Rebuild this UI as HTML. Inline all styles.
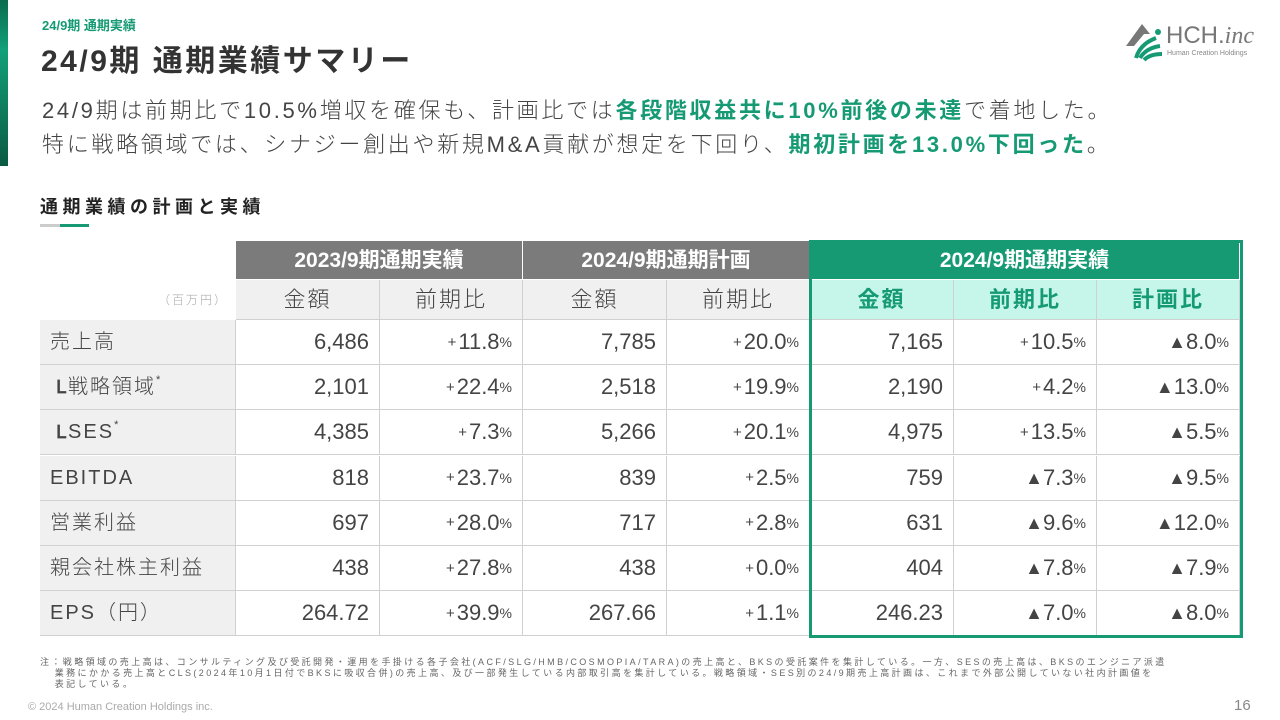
<!DOCTYPE html>
<html lang="ja"><head><meta charset="utf-8">
<style>
*{margin:0;padding:0;box-sizing:border-box}
body{width:1280px;height:720px;position:relative;background:#fff;font-family:"Liberation Sans","Noto Sans CJK JP",sans-serif;color:#333;overflow:hidden}
.a{position:absolute}
.c{position:absolute;border-right:1px solid #d0d0d0;border-bottom:1px solid #d0d0d0;display:flex;align-items:center;font-size:22px;color:#444;font-weight:300;line-height:1}
.n{justify-content:flex-end;padding-right:10px}
.pct{font-size:14px}
.pl{font-size:15px;margin-right:2px}
.g{color:#159a74;font-weight:700}
</style></head><body>
<div class="a" style="left:0;top:0;width:8px;height:166px;background:linear-gradient(#0a6b4f,#12a07a 30%,#0a5a42)"></div>
<div class="a" style="left:42px;top:15px;font-size:13px;color:#159a74;font-weight:700">24/9期 通期実績</div>
<div class="a" style="left:41px;top:36px;font-size:30px;font-weight:700;color:#333;letter-spacing:2.5px">24/9期 通期業績サマリー</div>
<div class="a" style="left:1124px;top:20px;width:140px;height:42px">
<svg width="40" height="42" viewBox="0 0 40 42"><polygon points="2,26 18,4 26,14 20,14 10,26" fill="#777"/><path d="M12,38 Q16,24 32,18 M16,38 Q22,28 36,26 M20,40 Q26,34 38,34" stroke="#159a74" stroke-width="4" fill="none"/><circle cx="34" cy="12" r="3" fill="#159a74"/></svg>
<div class="a" style="left:42px;top:2px;font-size:24px;color:#777">HCH.<i style="font-family:'Liberation Serif',serif">inc</i></div>
<div class="a" style="left:43px;top:30px;font-size:7px;color:#888;white-space:nowrap">Human Creation Holdings</div></div>
<div class="a" style="left:42px;top:94px;font-size:22px;line-height:34px;color:#444;font-weight:300;white-space:nowrap;letter-spacing:2.7px">24/9期は前期比で10.5%増収を確保も、計画比では<span class="g">各段階収益共に10%前後の未達</span>で着地した。<br>特に戦略領域では、シナジー創出や新規M&amp;A貢献が想定を下回り、<span class="g">期初計画を13.0%下回った</span>。</div>
<div class="a" style="left:40px;top:193px;font-size:18px;font-weight:700;color:#222;letter-spacing:4.5px">通期業績の計画と実績</div>
<div class="a" style="left:40px;top:224px;width:20px;height:3px;background:#ccc"></div>
<div class="a" style="left:60px;top:224px;width:29px;height:3px;background:#159a74"></div>
<div id="tbl"></div>
<div class="a" style="left:40px;top:657px;font-size:9px;line-height:11px;color:#666;width:1240px;letter-spacing:2.4px;white-space:nowrap">注：戦略領域の売上高は、コンサルティング及び受託開発・運用を手掛ける各子会社(ACF/SLG/HMB/COSMOPIA/TARA)の売上高と、BKSの受託案件を集計している。一方、SESの売上高は、BKSのエンジニア派遣<br>&nbsp;&nbsp;&nbsp;業務にかかる売上高とCLS(2024年10月1日付でBKSに吸収合併)の売上高、及び一部発生している内部取引高を集計している。戦略領域・SES別の24/9期売上高計画は、これまで外部公開していない社内計画値を<br>&nbsp;&nbsp;&nbsp;表記している。</div>
<div class="a" style="left:28px;top:701px;font-size:11px;color:#aaa">© 2024 Human Creation Holdings inc.</div>
<div class="a" style="left:1234px;top:697px;font-size:15px;color:#888">16</div>
<script>
const rowLabels=["売上高","└戦略領域*","└SES*","EBITDA","営業利益","親会社株主利益","EPS（円）"];
const fy23Amount=["6,486","2,101","4,385","818","697","438","264.72"];
const fy23Yoy=["+11.8","+22.4","+7.3","+23.7","+28.0","+27.8","+39.9"];
const planAmount=["7,785","2,518","5,266","839","717","438","267.66"];
const planYoy=["+20.0","+19.9","+20.1","+2.5","+2.8","+0.0","+1.1"];
const fy24Amount=["7,165","2,190","4,975","759","631","404","246.23"];
const fy24Yoy=["+10.5","+4.2","+13.5","▲7.3","▲9.6","▲7.8","▲7.0"];
const fy24VsPlan=["▲8.0","▲13.0","▲5.5","▲9.5","▲12.0","▲7.9","▲8.0"];
const colX=[40,236,380,523,667,810,954,1097,1240];
const T=document.getElementById('tbl');
function cell(x,y,w,h,html,cls,style,name){const d=document.createElement('div');d.className='c '+(cls||'');d.style.cssText=`left:${x}px;top:${y}px;width:${w}px;height:${h}px;`+(style||'');d.innerHTML=html;


T.appendChild(d);return d;}
const h1=[["2023/9期通期実績","#7b7b7b"],["2024/9期通期計画","#7b7b7b"],["2024/9期通期実績","#159a74"]];
h1.forEach((h,i)=>cell(colX[1+2*i],241,(i==2?colX[8]:colX[3+2*i])-colX[1+2*i],39,h[0],'',`background:${h[1]};color:#fff;font-weight:700;justify-content:center;border-color:#fff;font-size:21px`,'group-header'));
cell(40,280,196,40,'（百万円）','',`justify-content:flex-end;font-size:12px;color:#aaa;border-right:none;border-bottom:none;padding-right:8px;letter-spacing:2px`,'unit-label');
const h2=["金額","前期比","金額","前期比","金額","前期比","計画比"];
h2.forEach((t,i)=>cell(colX[i+1],280,colX[i+2]-colX[i+1],40,t,'',i>=4?'background:#c6f6ea;color:#159a74;font-weight:700;justify-content:center;letter-spacing:2px':'background:#f0f0f0;justify-content:center;letter-spacing:2px','column-header'));
function pct(v){if(v[0]=='+')return `<span class="pl">+</span>${v.slice(1)}<span class="pct">%</span>`;return `<span style="font-size:18px">▲</span>${v.slice(1)}<span class="pct">%</span>`;}
rowLabels.forEach((lab,r)=>{const y=320+r*45.2,h=45;
let l=lab.replace('└','<b style="font-weight:700;font-size:18px;margin-left:6px">ᒪ</b>').replace('*','<sup style="font-size:11px;align-self:flex-start;margin-top:10px">*</sup>');
cell(40,y,196,h,l,'',`background:#f0f0f0;padding-left:10px;font-size:20px;letter-spacing:2px`,'row-label');
[fy23Amount[r],pct(fy23Yoy[r]),planAmount[r],pct(planYoy[r]),fy24Amount[r],pct(fy24Yoy[r]),pct(fy24VsPlan[r])].forEach((v,i)=>cell(colX[i+1],y,colX[i+2]-colX[i+1],h,v,'n','','value-cell'));});
const box=document.createElement('div');box.className='a';box.style.cssText='left:809px;top:240px;width:434px;height:398px;border:3px solid #159a74';


T.appendChild(box);
</script>
</body></html>
